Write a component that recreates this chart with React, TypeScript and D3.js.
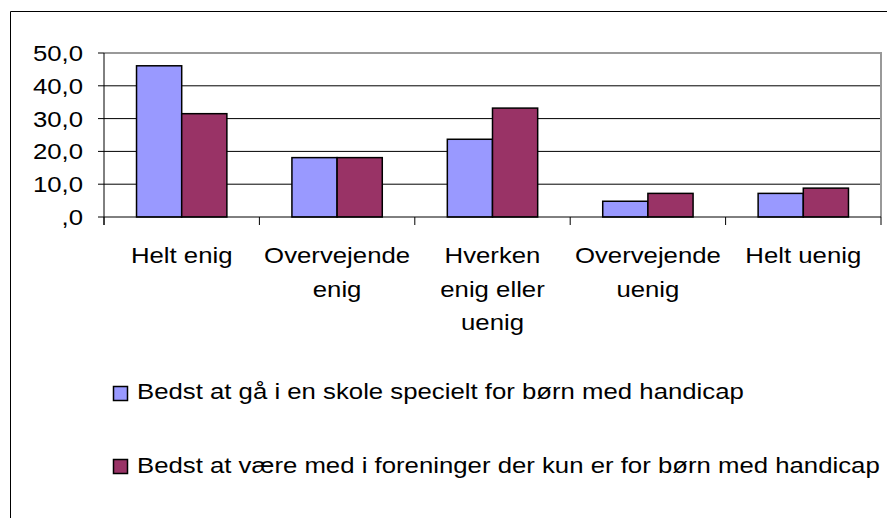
import * as d3 from "d3";
import React from "react";

const categories = [
  ["Helt enig"],
  ["Overvejende", "enig"],
  ["Hverken", "enig eller", "uenig"],
  ["Overvejende", "uenig"],
  ["Helt uenig"],
];
const seriesNames = [
  "Bedst at gå i en skole specielt for børn med handicap",
  "Bedst at være med i foreninger der kun er for børn med handicap",
];
const skole = [46.1, 18.1, 23.7, 4.8, 7.2];
const foreninger = [31.5, 18.1, 33.2, 7.2, 8.8];
const yTicks = [0, 10, 20, 30, 40, 50];
const yTickLabels = [",0", "10,0", "20,0", "30,0", "40,0", "50,0"];
const colors = ["#9999FF", "#993366"];

const W = 887;
const H = 518;
const left = 104;
const right = 881;
const top = 53;
const bottom = 217;
const font = "'Liberation Sans', Arial, sans-serif";
const fs = 23;
const sx = 1.12;

const T = ({ x, y, anchor = "start", children }: any) => (
  <text
    transform={`translate(${x},${y}) scale(${sx},1)`}
    textAnchor={anchor}
    fontFamily={font}
    fontSize={fs}
    fill="#000"
  >
    {children}
  </text>
);

export default function App() {
  const idx = categories.map((_, i) => i);
  const x0 = d3.scaleBand<number>().domain(idx).range([left, right]);
  const x1 = d3
    .scaleBand<number>()
    .domain([0, 1])
    .range([0, x0.bandwidth()])
    .paddingOuter(0.72);
  const y = d3.scaleLinear().domain([0, 50]).range([bottom, top]);
  const series = [skole, foreninger];

  return (
    <svg
      width={W}
      height={H}
      style={{ position: "absolute", left: 0, top: 0, background: "#fff" }}
    >
      <rect x={0} y={0} width={W} height={H} fill="#fff" />
      {/* chart frame */}
      <path d={`M10.5,${H + 5} V11.5 H${W + 5}`} fill="none" stroke="#000" />

      {/* gridlines */}
      {yTicks.slice(1, -1).map((t) => (
        <line key={t} x1={left} x2={right} y1={y(t)} y2={y(t)} stroke="#000" />
      ))}
      {/* plot area border */}
      <path
        d={`M${left},${top} H${right} V${bottom}`}
        fill="none"
        stroke="#999"
        strokeWidth={2}
      />

      {/* bars */}
      {series.map((vals, s) =>
        vals.map((v, i) => (
          <rect
            key={`${s}-${i}`}
            x={x0(i)! + x1(s)!}
            y={y(v)}
            width={x1.bandwidth()}
            height={y(0) - y(v)}
            fill={colors[s]}
            stroke="#000"
            strokeWidth={1.5}
          />
        ))
      )}

      {/* axes */}
      <line x1={left} x2={left} y1={top} y2={bottom + 8} stroke="#000" />
      <line x1={left} x2={right} y1={bottom} y2={bottom} stroke="#000" />
      {yTicks.map((t, i) => (
        <g key={t}>
          <line x1={left - 6} x2={left} y1={y(t)} y2={y(t)} stroke="#000" />
          <T x={83} y={y(t) + 8} anchor="end">
            {yTickLabels[i]}
          </T>
        </g>
      ))}
      {idx.concat([idx.length]).map((i) => {
        const xx = i < idx.length ? x0(i)! : right;
        return (
          <line key={i} x1={xx} x2={xx} y1={bottom} y2={bottom + 8} stroke="#000" />
        );
      })}
      {categories.map((lines, i) =>
        lines.map((ln, j) => (
          <T
            key={`${i}-${j}`}
            x={x0(i)! + x0.bandwidth() / 2}
            y={263 + j * 33.5}
            anchor="middle"
          >
            {ln}
          </T>
        ))
      )}

      {/* legend */}
      {seriesNames.map((name, s) => (
        <g key={name}>
          <rect
            x={113.5}
            y={386.5 + s * 73}
            width={14}
            height={14}
            fill={colors[s]}
            stroke="#000"
            strokeWidth={1.5}
          />
          <T x={137} y={399 + s * 73.5}>
            {name}
          </T>
        </g>
      ))}
    </svg>
  );
}
